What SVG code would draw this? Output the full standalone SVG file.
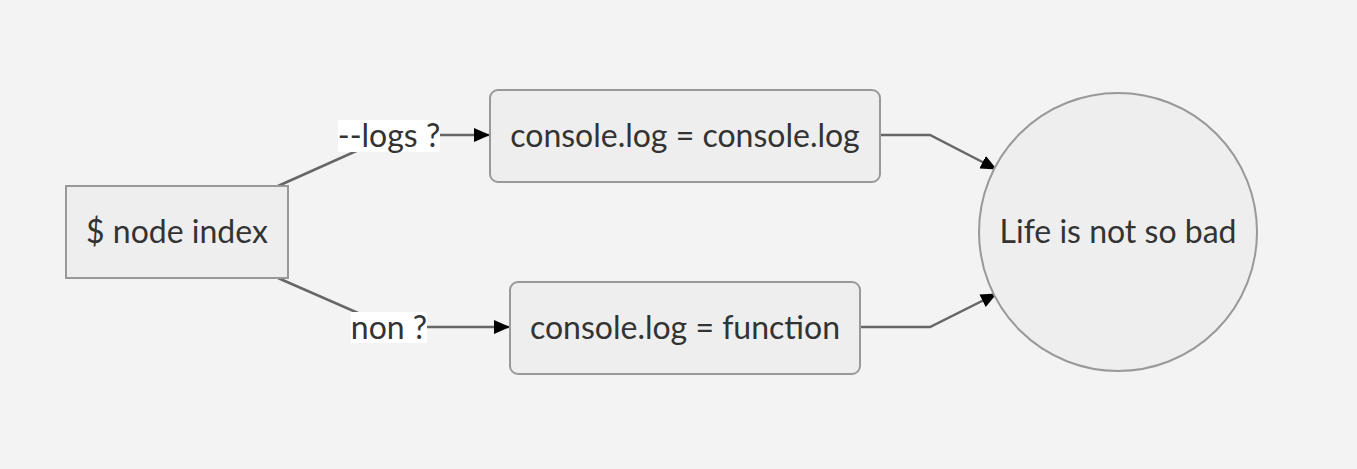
<svg xmlns="http://www.w3.org/2000/svg" width="1357" height="469" viewBox="0 0 1357 469">
<defs>
<marker id="arrow" viewBox="0 0 16 14" refX="15" refY="7" markerUnits="userSpaceOnUse" markerWidth="16" markerHeight="14" orient="auto">
<path d="M0,0 L16,7 L0,14 z" fill="#000"/>
</marker>
<style>
.node{fill:#eeeeee;stroke:#999999;stroke-width:2}
.txt{font-family:Lato,"Liberation Sans",sans-serif;font-size:32px;fill:#333333;text-anchor:middle;dominant-baseline:central}
.edge{fill:none;stroke:#666666;stroke-width:2.5}
.lbl{fill:#ffffff}
</style>
</defs>
<rect width="1357" height="469" fill="#f3f3f3"/>
<g id="connectors">
<path class="edge" d="M278,186 L392,135 L489,135" marker-end="url(#arrow)"/>
<path class="edge" d="M278,278 L390,327 L509,327" marker-end="url(#arrow)"/>
<path class="edge" d="M880,135 L930,135 L996,169" marker-end="url(#arrow)"/>
<path class="edge" d="M860,327 L930,327 L996,294" marker-end="url(#arrow)"/>
<g id="label-logs"><rect class="lbl" x="338" y="120" width="102" height="32"/><text class="txt" x="389" y="134">--logs ?</text></g>
<g id="label-non"><rect class="lbl" x="351" y="312" width="76" height="31"/><text class="txt" x="389" y="326">non ?</text></g>
</g>
<g id="node-start"><rect class="node" x="66" y="186" width="222" height="92"/><text class="txt" x="177" y="230">$ node index</text></g>
<g id="node-logs"><rect class="node" x="490" y="90" width="390" height="92" rx="8"/><text class="txt" x="685" y="134">console.log = console.log</text></g>
<g id="node-func"><rect class="node" x="510" y="282" width="350" height="92" rx="8"/><text class="txt" x="685" y="326">console.log = function</text></g>
<g id="node-life"><circle class="node" cx="1118" cy="232" r="139"/><text class="txt" x="1118" y="230">Life is not so bad</text></g>
</svg>
